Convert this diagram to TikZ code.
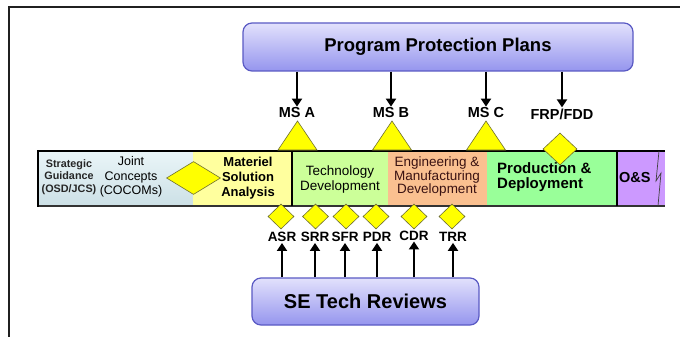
\documentclass[tikz,border=0pt]{standalone}
\usepackage{fontspec}
\setmainfont{Liberation Sans}
\usetikzlibrary{arrows.meta,shapes.geometric}
\definecolor{framegray}{HTML}{202020}
\definecolor{boxtop}{HTML}{E2E1FC}
\definecolor{boxbot}{HTML}{9595EE}
\definecolor{boxedge}{HTML}{5A5AC4}
\definecolor{sgtop}{HTML}{EAF5F8}
\definecolor{sgbot}{HTML}{CCE0E6}
\definecolor{msacol}{HTML}{FFFF9E}
\definecolor{tdcol}{HTML}{CCFF99}
\definecolor{emdcol}{HTML}{FAC090}
\definecolor{pdcol}{HTML}{99FF99}
\definecolor{oscol}{HTML}{CC99FF}
\definecolor{yel}{HTML}{FFFF00}
\definecolor{yeledge}{HTML}{6F6F30}
\definecolor{emdtext}{HTML}{3A1212}
\tikzset{
  bigbox/.style={draw=boxedge, line width=1.2pt, rounded corners=9pt,
    top color=boxtop, bottom color=boxbot, inner sep=0pt},
  ylw/.style={fill=yel, draw=yeledge, line width=0.6pt},
  dmd/.style={ylw, shape=diamond, inner sep=0pt},
  arr/.style={-{Triangle[length=8pt,width=10pt]}, line width=2.7pt, black},
  lab/.style={font=\bfseries\fontsize{14.5}{15}\selectfont, inner sep=1pt},
  rlab/.style={font=\bfseries\fontsize{13.5}{14}\selectfont, inner sep=1pt},
  seg/.style={inner sep=0pt, align=center}
}
\begin{document}
\begin{tikzpicture}[x=1pt,y=-1pt]
\useasboundingbox (0,0) rectangle (680,337);
\fill[white] (0,0) rectangle (680,337);
% frame
\draw[framegray, line width=2pt] (9,338) -- (9,7) -- (681,7);

% top box
\node[bigbox, minimum width=390pt, minimum height=48pt,
  font=\bfseries\fontsize{18.5}{20}\selectfont] (ppp) at (438,47) {Program Protection Plans};

% bar segments
\shade[top color=sgtop, bottom color=sgbot] (38,151) rectangle (193,206);
\fill[msacol] (193,151) rectangle (292,206);
\fill[tdcol] (292,151) rectangle (388,206);
\fill[emdcol] (388,151) rectangle (487,206);
\fill[pdcol] (487,151) rectangle (617,206);
\fill[oscol] (617,151) rectangle (665,206);
\draw[black, line width=2.4pt] (38,151) -- (665,151);
\draw[black!80, line width=1.4pt] (38,206) -- (665,206);
\draw[black, line width=2pt] (38,150) -- (38,207);
\draw[black, line width=2pt] (292,151) -- (292,206);
\draw[black, line width=2pt] (617,151) -- (617,206);
\draw[black!75, line width=0.7pt] (659,151) -- (656,181) -- (661,173) -- (658,206);

% bar texts
\node[seg, font=\bfseries\fontsize{10.8}{12.5}\selectfont, text=black!85] (sg) at (69,177) {Strategic\\Guidance\\(OSD/JCS)};
\node[seg, font=\fontsize{12.5}{14.5}\selectfont] (jc) at (131,177) {Joint\\Concepts\\(COCOMs)};
\node[dmd, minimum width=54pt, minimum height=33pt] (jcd) at (193.5,178) {};
\node[seg, font=\bfseries\fontsize{13}{15}\selectfont] (msa) at (248,178) {Materiel\\Solution\\Analysis};
\node[seg, font=\fontsize{13.5}{14.5}\selectfont] (td) at (340,179.5) {Technology\\Development};
\node[seg, font=\fontsize{13.5}{13.5}\selectfont, text=emdtext] (emd) at (437,177) {Engineering \&\\Manufacturing\\Development};
\node[seg, align=left, anchor=west, font=\bfseries\fontsize{15}{15.5}\selectfont] (pd) at (497,177) {Production \&\\Deployment};
\node[seg, anchor=west, font=\bfseries\fontsize{14.5}{15}\selectfont] (os) at (619,178) {O\&S};

% milestones
\node[lab] (msA) at (297,113) {MS A};
\node[lab] (msB) at (391,113) {MS B};
\node[lab] (msC) at (486,113) {MS C};
\node[lab] (frp) at (562,114) {FRP/FDD};
\draw[ylw] (278,150) -- (297.5,121) -- (317,150) -- cycle;
\draw[ylw] (372.5,150) -- (392,121) -- (411.5,150) -- cycle;
\draw[ylw] (466.5,150) -- (486,121) -- (505.5,150) -- cycle;
\node[dmd, minimum width=34pt, minimum height=32pt] (frpd) at (560,149) {};
\draw[arr] (ppp.south -| msA) -- (msA.north);
\draw[arr] (ppp.south -| msB) -- (msB.north);
\draw[arr] (ppp.south -| msC) -- (msC.north);
\draw[arr] (ppp.south -| frp) -- (frp.north);

% reviews
\node[dmd, minimum width=26pt, minimum height=25pt] (d1) at (281,216.5) {};
\node[dmd, minimum width=26pt, minimum height=25pt] (d2) at (315.5,216.5) {};
\node[dmd, minimum width=26pt, minimum height=25pt] (d3) at (346,216.5) {};
\node[dmd, minimum width=26pt, minimum height=25pt] (d4) at (376,216.5) {};
\node[dmd, minimum width=26pt, minimum height=25pt] (d5) at (414,216.5) {};
\node[dmd, minimum width=26pt, minimum height=25pt] (d6) at (452,216.5) {};
\node[rlab] (asr) at (282,237) {ASR};
\node[rlab] (srr) at (315,237) {SRR};
\node[rlab] (sfr) at (345,237) {SFR};
\node[rlab] (pdr) at (377,237) {PDR};
\node[rlab] (cdr) at (414,235.5) {CDR};
\node[rlab] (trr) at (453,237) {TRR};

\node[bigbox, minimum width=227pt, minimum height=47pt,
  font=\bfseries\fontsize{20}{22}\selectfont] (se) at (365.5,301.5) {SE Tech Reviews};
\draw[arr] (se.north -| asr) -- (asr.south);
\draw[arr] (se.north -| srr) -- (srr.south);
\draw[arr] (se.north -| sfr) -- (sfr.south);
\draw[arr] (se.north -| pdr) -- (pdr.south);
\draw[arr] (se.north -| cdr) -- (cdr.south);
\draw[arr] (se.north -| trr) -- (trr.south);
\end{tikzpicture}
\end{document}
